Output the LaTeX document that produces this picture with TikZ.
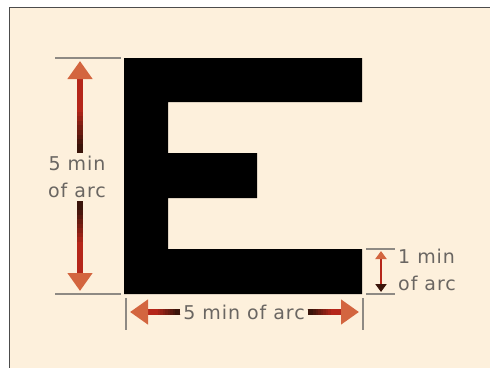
\documentclass[tikz,border=0pt]{standalone}
\usepackage{fontspec}
\setmainfont{DejaVu Sans}[LetterSpace=5]
\usetikzlibrary{
  arrows.meta, % for the fat dimension arrow tips
  calc, % for the points along the arrow shafts
  positioning % for placing the labels next to the ticks
}
\definecolor{panel}{HTML}{FDF0DC}
\definecolor{tickgray}{HTML}{8E8A84}
\definecolor{labelgray}{HTML}{6A6662}
\definecolor{shaftred}{HTML}{B5261A}
\definecolor{darkbrown}{HTML}{3A140A}
\definecolor{tipred}{HTML}{D3653F}
\tikzset{
  tick/.style={ % style for the extension lines
    draw=tickgray,line width=1.6pt,
  },
  dimlabel/.style={ % style for the dimension texts
    text=labelgray,inner sep=0pt,
    font=\fontsize{19}{27}\selectfont,
  },
  bigarrow/.style={ % style for the long dimension arrows
    draw=shaftred,line width=6pt,
    -{Triangle[width=24pt,length=18pt,color=tipred]},
  },
  shaftpart/.style={ % darker piece of a shaft, next to the label
    line width=6pt,
  },
  smallarrow/.style={ % style for the short dimension arrow
    draw=shaftred,line width=2.6pt,
    {Triangle[width=11pt,length=8pt,color=tipred]}-{Triangle[width=11pt,length=8pt,color=darkbrown]},
  },
}
% arrow from #1 (at the label) to #2, dark at the label end
\newcommand\fadearrow[2]{
  \draw[bigarrow] (#1) -- (#2);
  \foreach \b/\c in {0.45/12,0.4/25,0.35/37,0.3/50,0.25/62,0.2/75,0.15/87,0.1/100}
    \draw[shaftpart,draw=darkbrown!\c!shaftred] (#1) -- ($(#1)!\b!(#2)$);
}
\begin{document}
\begin{tikzpicture}[x=1pt,y=-1pt]
  \useasboundingbox (0,0) rectangle (490,367);
  \fill[white] (0,0) rectangle (490,367);
  \filldraw[fill=panel,draw=black!70,line width=1.2pt] (9.5,7.5) rectangle (495,372);
  % the letter
  \fill[black] (124,58) -- (362,58) -- (362,102) -- (168,102) -- (168,153)
    -- (257,153) -- (257,198) -- (168,198) -- (168,249) -- (362,249)
    -- (362,294) -- (124,294) -- cycle;
  % extension lines
  \coordinate (lt) at (80,58);
  \coordinate (lb) at (80,294);
  \draw[tick] (55,58) -- (121,58);
  \draw[tick] (55,294) -- (121,294);
  \coordinate (bl) at (126,312);
  \coordinate (br) at (363,312);
  \draw[tick] (126,298) -- (126,330);
  \draw[tick] (363,298) -- (363,330);
  \coordinate (rt) at (381,249);
  \coordinate (rb) at (381,294);
  \draw[tick] (366,249) -- (395,249);
  \draw[tick] (366,294) -- (395,294);
  % labels
  \node[dimlabel,align=center] (height) at (77,177) {5 min\\of arc};
  \node[dimlabel] (width) at (244,312) {5 min of arc};
  \node[dimlabel,align=left,anchor=west] (stroke) at (398,270) {1 min\\of arc};
  % arrows
  \coordinate (hn) at ([yshift=3pt]height.north -| lt);
  \coordinate (hs) at ([yshift=-3pt]height.south -| lb);
  \coordinate (wl) at ([xshift=-3pt]width.west);
  \coordinate (wr) at ([xshift=3pt]width.east);
  \fadearrow{hn}{[yshift=-3pt]lt}
  \fadearrow{hs}{[yshift=3pt]lb}
  \fadearrow{wl}{[xshift=4pt]bl}
  \fadearrow{wr}{[xshift=-4pt]br}
  \draw[smallarrow] ([yshift=-2pt]rt) -- ([yshift=2pt]rb);
\end{tikzpicture}
\end{document}
